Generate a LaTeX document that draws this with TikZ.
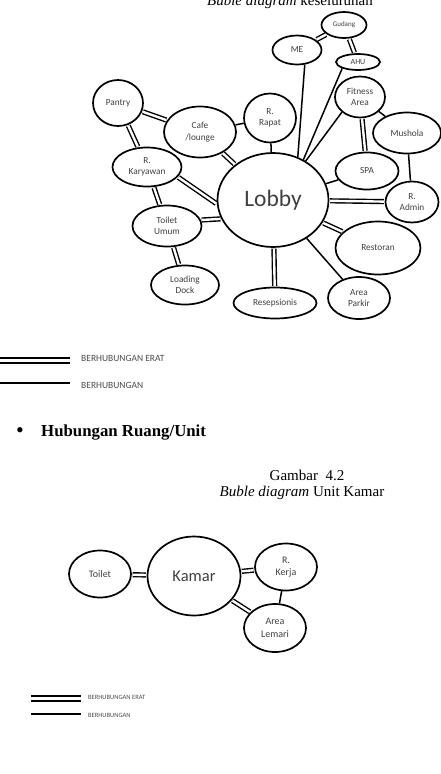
\documentclass[tikz,border=0pt]{standalone}
\usepackage{fontspec}
\setmainfont{Liberation Serif}
\newfontfamily\calib{Carlito}
\usetikzlibrary{shapes.geometric}

\begin{document}
\begin{tikzpicture}[x=1pt,y=-1pt,
  room/.style={draw,ellipse,line width=1.7pt,inner sep=0pt,align=center,text=black!75,
    font=\calib\fontsize{9.3}{11.5}\selectfont},
  dbl/.style={double,double distance=2.4pt,line width=1.4pt,shorten <=0.8pt,shorten >=0.8pt},
  sgl/.style={line width=1.5pt},
  lgd/.style={anchor=west,inner sep=0pt,text=black!70},
  capt/.style={inner sep=0pt,font=\fontsize{15}{18}\selectfont}]

  \useasboundingbox (0,0) rectangle (441,774);

  % caption (cut at top of page)
  \node[capt,anchor=base] (cap1) at (290,5) {\textit{Buble diagram} keseluruhan};

  % ---- bubble diagram keseluruhan ----
  \foreach \id/\x/\y/\w/\h/\txt in {
      me/297/50/49/29/ME, fit/360/97/50/41/{Fitness\\Area},
      pan/118/103/50/46/Pantry, cafe/200/132/72/51/{Cafe\\/lounge},
      rap/270/118/52/49/{R.\\Rapat}, mus/407/133/68/41/Mushola,
      kar/147/167/69/39/{R.\\Karyawan}, spa/367/171/63/37/SPA,
      adm/412/202/53/41/{R.\\Admin}, tu/167/226/69/41/{Toilet\\Umum},
      res/378/248/85/53/Restoran, ld/185/285/68/39/{Loading\\Dock},
      rsp/275/303/83/31/Resepsionis, pkr/359/298/62/42/{Area\\Parkir}}{
    \node[room,minimum width=\w,minimum height=\h] (\id) at (\x,\y) {\txt};
  }
  \node[room,minimum width=45,minimum height=26,font=\calib\fontsize{7}{8}\selectfont] (gud) at (344,25) {Gudang};
  \node[room,minimum width=44,minimum height=16,font=\calib\fontsize{8}{9}\selectfont] (ahu) at (358,62) {AHU};
  \node[room,minimum width=111,minimum height=94,font=\calib\fontsize{23.5}{26}\selectfont] (lobby) at (273,200) {Lobby};

  % berhubungan erat
  \foreach \a/\b in {me/gud, gud/ahu, fit/spa, pan/cafe, pan/kar, kar/tu, tu/ld,
      cafe/lobby, kar.-18/lobby.184, tu.10/lobby.200, adm/lobby, res/lobby, rsp/lobby}
    \draw[dbl] (\a) -- (\b);
  % berhubungan
  \foreach \a/\b in {me.-62/lobby.60, ahu.-158/lobby.53, fit.-140/lobby.50, fit/mus,
      mus/adm, spa/lobby, rap/lobby, cafe/rap, pkr/lobby}
    \draw[sgl] (\a) -- (\b);

  % ---- legend 1 ----
  \coordinate (l1a) at (0,360.5);  \coordinate (l1b) at (70,360.5);
  \coordinate (l1c) at (0,383);    \coordinate (l1d) at (70,383);
  \draw[double,double distance=2.3pt,line width=2.4pt] (l1a) -- (l1b);
  \draw[line width=2pt] (l1c) -- (l1d);
  \node[lgd,font=\calib\fontsize{9.5}{11}\selectfont] (t1a) at (81,358) {BERHUBUNGAN ERAT};
  \node[lgd,font=\calib\fontsize{9.5}{11}\selectfont] (t1b) at (81,385) {BERHUBUNGAN};

  % ---- heading ----
  \node[inner sep=0pt,font=\fontsize{22}{24}\selectfont] (bul) at (20,433) {\textbullet};
  \node[inner sep=0pt,anchor=west,font=\bfseries\fontsize{16.8}{19}\selectfont] (hub) at (41,433) {Hubungan Ruang/Unit};
  \node[capt] (cap2a) at (307,475) {Gambar\ \ 4.2};
  \node[capt] (cap2b) at (302,493) {\textit{Buble diagram} Unit Kamar};

  % ---- bubble diagram unit kamar ----
  \node[room,minimum width=62,minimum height=47,font=\calib\fontsize{10}{12}\selectfont] (toi) at (100,574) {Toilet};
  \node[room,minimum width=93,minimum height=79,font=\calib\fontsize{16.5}{19}\selectfont] (kam) at (194,576) {Kamar};
  \node[room,minimum width=62,minimum height=47,font=\calib\fontsize{10}{12.5}\selectfont] (krj) at (286,567) {R.\\Kerja};
  \node[room,minimum width=62,minimum height=48,font=\calib\fontsize{10}{12.5}\selectfont] (lem) at (275,628) {Area\\Lemari};
  \foreach \a/\b in {toi/kam, kam/krj, kam/lem}
    \draw[dbl] (\a) -- (\b);
  \draw[sgl] (krj) -- (lem);

  % ---- legend 2 ----
  \coordinate (l2a) at (31,698.5); \coordinate (l2b) at (81,698.5);
  \coordinate (l2c) at (31,714);   \coordinate (l2d) at (81,714);
  \draw[double,double distance=2.2pt,line width=2pt] (l2a) -- (l2b);
  \draw[line width=2pt] (l2c) -- (l2d);
  \node[lgd,font=\calib\fontsize{6.5}{8}\selectfont] (t2a) at (88,697) {BERHUBUNGAN ERAT};
  \node[lgd,font=\calib\fontsize{6.5}{8}\selectfont] (t2b) at (88,715) {BERHUBUNGAN};
\end{tikzpicture}
\end{document}
